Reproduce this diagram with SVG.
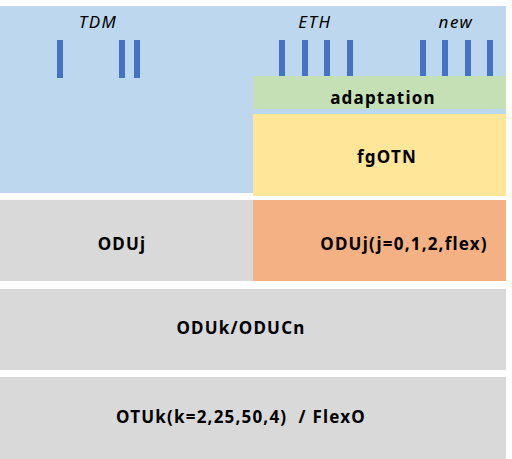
<svg xmlns="http://www.w3.org/2000/svg" width="512" height="459" viewBox="0 0 512 459">
<style>
.lbl{font-family:"Noto Sans","Open Sans",sans-serif;font-weight:bold;font-size:17px;letter-spacing:1.2px;fill:#000;text-anchor:middle}
.it{font-family:"Noto Sans","Open Sans",sans-serif;font-style:italic;font-size:17px;letter-spacing:1.5px;fill:#000;text-anchor:middle}
.bar{fill:#4472C4}
</style>
<rect width="512" height="459" fill="#fff"/>
<g id="client">
<rect x="0" y="6" width="506" height="187" fill="#BDD7EE"/>
<text class="it" x="98" y="28">TDM</text>
<text class="it" x="315" y="28">ETH</text>
<text class="it" x="456" y="28">new</text>
<rect class="bar" x="57" y="40" width="6" height="38"/>
<rect class="bar" x="119" y="40" width="6" height="38"/>
<rect class="bar" x="134" y="40" width="6" height="38"/>
<rect class="bar" x="279" y="40" width="6" height="38"/>
<rect class="bar" x="302" y="40" width="6" height="38"/>
<rect class="bar" x="324" y="40" width="6" height="38"/>
<rect class="bar" x="347" y="40" width="6" height="38"/>
<rect class="bar" x="420" y="40" width="6" height="38"/>
<rect class="bar" x="442" y="40" width="6" height="38"/>
<rect class="bar" x="465" y="40" width="6" height="38"/>
<rect class="bar" x="487" y="40" width="6" height="38"/>
</g>
<g id="adaptation">
<rect x="253" y="76" width="253" height="33" fill="#C5E0B4"/>
<text class="lbl" x="383" y="104">adaptation</text>
</g>
<g id="fgOTN">
<rect x="253" y="114" width="253" height="82" fill="#FFE699"/>
<text class="lbl" x="387" y="163">fgOTN</text>
</g>
<g id="ODUj">
<rect x="0" y="200" width="253" height="81" fill="#D9D9D9"/>
<text class="lbl" x="122" y="250">ODUj</text>
</g>
<g id="ODUj-flex">
<rect x="253" y="200" width="253" height="81" fill="#F4B183"/>
<text class="lbl" x="404" y="250">ODUj(j=0,1,2,flex)</text>
</g>
<g id="ODUk">
<rect x="0" y="289" width="506" height="81" fill="#D9D9D9"/>
<text class="lbl" x="241" y="334">ODUk/ODUCn</text>
</g>
<g id="OTUk">
<rect x="0" y="377" width="506" height="82" fill="#D9D9D9"/>
<text class="lbl" x="241" y="423" xml:space="preserve">OTUk(k=2,25,50,4)  / FlexO</text>
</g>
<g id="connectors"/>
</svg>
